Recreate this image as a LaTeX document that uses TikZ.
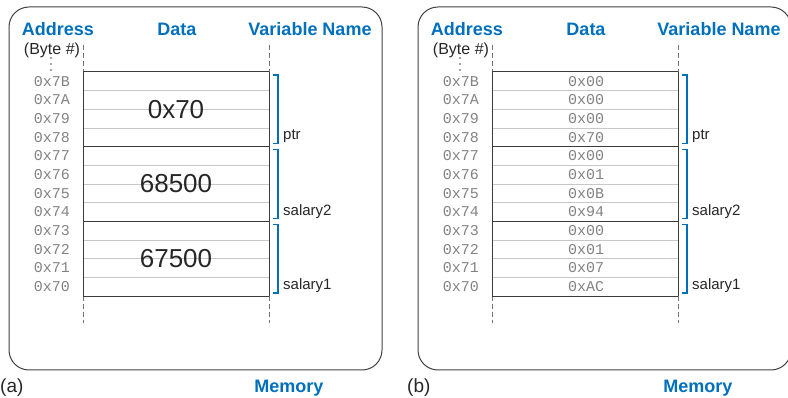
\documentclass[tikz,border=0pt]{standalone}
\usepackage{fontspec}
\setmainfont{Liberation Sans}
\setmonofont{Liberation Mono}
\definecolor{memblue}{RGB}{0,112,188}
\definecolor{addrgray}{RGB}{130,130,130}
\definecolor{rowgray}{RGB}{200,200,200}
\definecolor{linegray}{RGB}{60,60,60}
\begin{document}
\begin{tikzpicture}[x=1pt,y=-1pt,
  hdr/.style={font=\fontsize{18}{18}\selectfont\bfseries, text=memblue, inner sep=0pt},
  lbl/.style={font=\fontsize{15}{15}\selectfont, text=black!85, inner sep=0pt},
  addr/.style={font=\fontsize{15}{15}\selectfont\ttfamily, text=addrgray, inner sep=0pt},
  bigval/.style={font=\fontsize{26}{26}\selectfont, text=black!85, inner sep=0pt},
  boxline/.style={draw=black!75, line width=1pt},
  guide/.style={draw=black!55, line width=1pt, dash pattern=on 5pt off 3pt},
  rowline/.style={draw=rowgray, line width=0.8pt},
  blockline/.style={draw=linegray, line width=1pt},
  bracket/.style={draw=memblue, line width=1.2pt}]
\useasboundingbox (0,0) rectangle (788,398);
% outer frames
\begin{scope}
\clip (0,0) rectangle (788,398);
\draw[boxline, rounded corners=20pt] (9,7) rectangle (382,370);
\draw[boxline, rounded corners=20pt] (418,7) rectangle (791,370);
\end{scope}
% both panels share the same table
\foreach \p/\dx in {a/0,b/409}{
\begin{scope}[xshift=\dx pt]
\node[hdr] (addr-\p) at (58,29) {Address};
\node[hdr] (data-\p) at (177,29) {Data};
\node[hdr] (var-\p) at (310,29) {Variable Name};
\node[lbl, font=\fontsize{16}{16}\selectfont] (byte-\p) at (52,50) {(Byte \#)};
\foreach \yy in {58,64,70} \fill[black!70] (51,\yy) circle[radius=0.9];
\draw[guide] (83,45) -- (83,72); \draw[guide] (269,45) -- (269,72);
\draw[guide] (83,296) -- (83,323); \draw[guide] (269,296) -- (269,323);
% rows
\foreach \a [count=\i from 0] in {7B,7A,79,78,77,76,75,74,73,72,71,70}{
  \node[addr, anchor=east] (adr-\p-\i) at (70,72+\i*18.667+9.33) {0x\a};
  \ifnum\i>0 \draw[rowline] (83,72+\i*18.667) -- (269,72+\i*18.667); \fi
}
\foreach \k in {0,1,2,3} \draw[blockline] (83,72+\k*74.667) -- (269,72+\k*74.667);
\draw[blockline] (83,72) -- (83,296);
\draw[blockline] (269,72) -- (269,296);
% variable names
\foreach \v [count=\k from 0] in {ptr,salary2,salary1}{
  \draw[bracket] (273,75+\k*74.667) -- (278,75+\k*74.667) -- (278,143.67+\k*74.667) -- (273,143.67+\k*74.667);
  \node[lbl, anchor=west] (name-\p-\k) at (283,136.67+\k*74.667) {\v};
}
\end{scope}
}
% values, panel (a)
\node[bigval] (ptr-val) at (176,109.33) {0x70};
\node[bigval] (sal2-val) at (176,184) {68500};
\node[bigval] (sal1-val) at (176,258.67) {67500};
% values, panel (b)
\begin{scope}[xshift=409pt]
\foreach \d [count=\i from 0] in {00,00,00,70,00,01,0B,94,00,01,07,AC}
  \node[addr] (byte-val-\i) at (177,72+\i*18.667+9.33) {0x\d};
\end{scope}
% captions
\node[lbl, font=\fontsize{19}{19}\selectfont, anchor=west] (cap-a) at (0,388) {(a)};
\node[lbl, font=\fontsize{19}{19}\selectfont, anchor=west] (cap-b) at (407,388) {(b)};
\node[hdr] (mem-a) at (289,388) {Memory};
\node[hdr] (mem-b) at (698,388) {Memory};
\end{tikzpicture}
\end{document}
